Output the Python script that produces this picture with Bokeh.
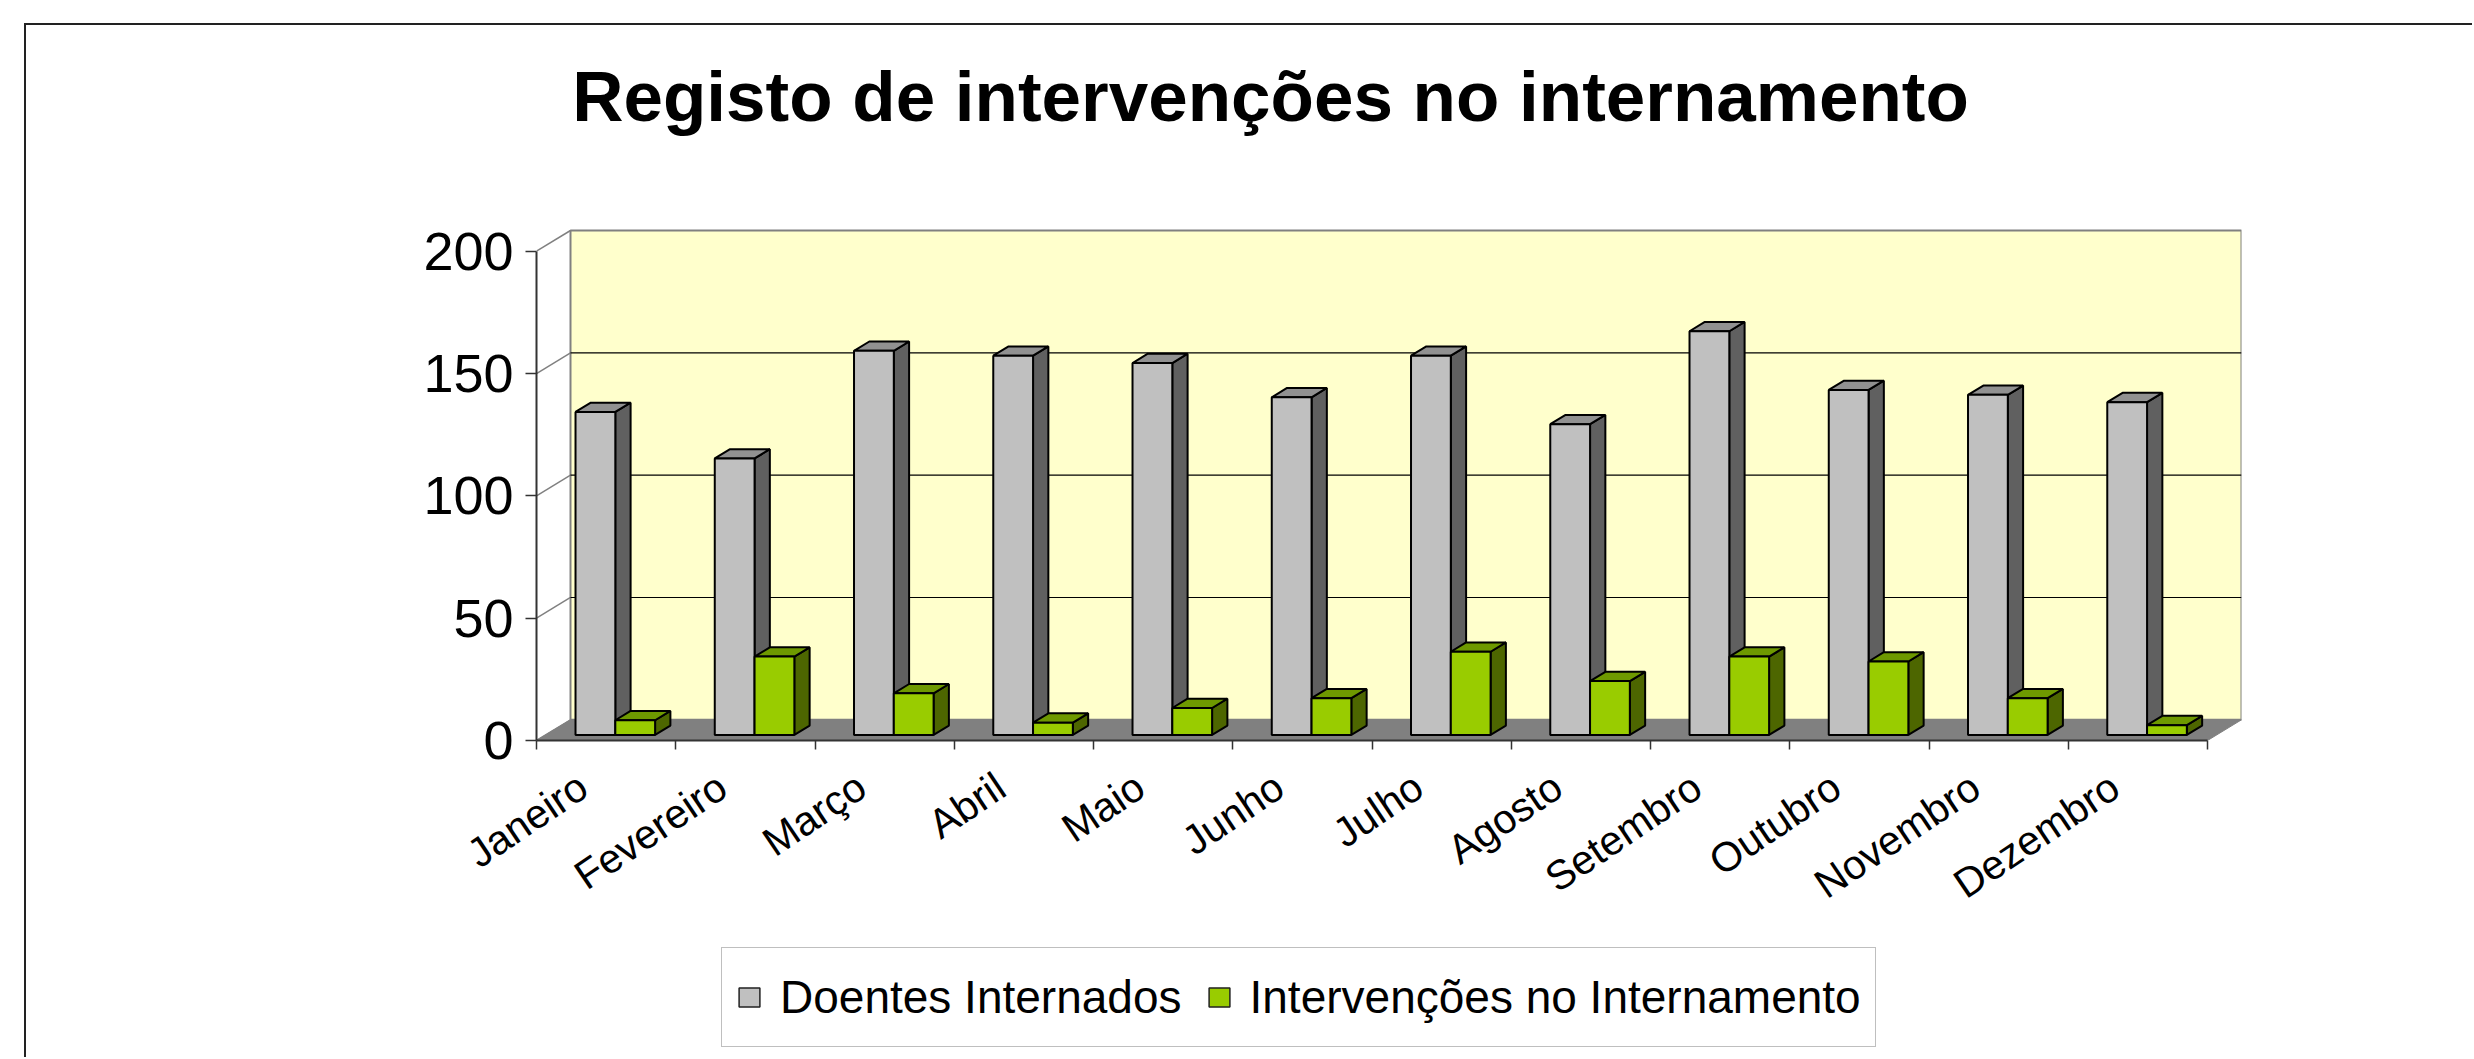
import math
from bokeh.plotting import figure
from bokeh.layouts import column
from bokeh.models import (Range1d, FixedTicker, LinearAxis, Legend, LegendItem, Label)
from bokeh.embed import file_html
from bokeh.resources import INLINE

# ---------------- data ----------------
months = ["Janeiro", "Fevereiro", "Março", "Abril", "Maio", "Junho",
          "Julho", "Agosto", "Setembro", "Outubro", "Novembro", "Dezembro"]
doentes = [132, 113, 157, 155, 152, 138, 155, 127, 165, 141, 139, 136]
intervencoes = [6, 32, 17, 5, 11, 15, 34, 22, 32, 30, 15, 4]
series_names = ["Doentes Internados", "Intervenções no Internamento"]
y_ticks = [0, 50, 100, 150, 200]
title_text = "Registo de intervenções no internamento"

# ---------------- layout / 3-D styling ----------------
n = len(months)
W = 2472
H_MAIN, H_LEG = 944, 113
FRAME_L, FRAME_R, FRAME_B = 536, 2241, 740   # pixel edges of the plotting frame
PX_PER_CAT = 139.25
PX_PER_VAL = 2.4465
DX = 34 / PX_PER_CAT          # depth offset (category units)
DY = 20.7 / PX_PER_VAL        # depth offset (value units)
D0, D1 = 0.27, 0.72           # bar depth span (fraction of floor depth)
GAP = 1.5
BAR_W = 1.0 / (2 + GAP)
LABEL_SHIFT = 0.165
YMAX = y_ticks[-1]
TITLE_CX, TITLE_BASE = 1270, 96    # title centre / baseline in pixels
LEGEND_LEFT, LEGEND_BOTTOM = 721, 1047

FONT = "Liberation Sans"
series_colors = [
    dict(front="#C0C0C0", side="#606060", top="#919191"),
    dict(front="#99CC00", side="#4D6600", top="#6E9900"),
]

p = figure(width=W, height=H_MAIN, output_backend="svg", toolbar_location=None,
           title=None,
           x_range=Range1d(0, n + DX), y_range=Range1d(0, FRAME_B / PX_PER_VAL),
           x_axis_type=None, y_axis_type=None,
           min_border_left=FRAME_L, min_border_right=W - FRAME_R,
           min_border_top=0, min_border_bottom=H_MAIN - FRAME_B)
p.outline_line_color = None
p.background_fill_color = None
p.border_fill_color = None
p.styles = {
    "background-color": "white",
    "background-image": "linear-gradient(#222222, #222222), linear-gradient(#222222, #222222)",
    "background-size": "100% 2px, 2px 100%",
    "background-position": "24px 23px, 24px 23px",
    "background-repeat": "no-repeat",
}

# title
p.add_layout(Label(x=(TITLE_CX - FRAME_L) / PX_PER_CAT, y=(FRAME_B - TITLE_BASE) / PX_PER_VAL,
                   text=title_text, text_align="center", text_baseline="alphabetic",
                   text_font=FONT, text_font_size="71px", text_font_style="bold",
                   text_color="black"))

# back wall
p.quad(left=DX, right=n + DX, bottom=DY, top=YMAX + DY,
       fill_color="#FFFFCC", line_color="#808080", line_width=2)
# floor
p.patch(x=[0, n, n + DX, DX], y=[0, 0, DY, DY],
        fill_color="#808080", line_color="#808080", line_width=1)
# side-wall diagonals
p.segment(x0=[0] * len(y_ticks), y0=y_ticks,
          x1=[DX] * len(y_ticks), y1=[t + DY for t in y_ticks],
          line_color="#808080", line_width=1.5)
# gridlines on back wall
grid_vals = [t for t in y_ticks if 0 < t < YMAX]
p.segment(x0=[DX] * len(grid_vals), y0=[t + DY for t in grid_vals],
          x1=[n + DX] * len(grid_vals), y1=[t + DY for t in grid_vals],
          line_color="#000000", line_width=1.2)

# bars
ddx = (D1 - D0) * DX
ddy = (D1 - D0) * DY
front_data = []
for s, vals in enumerate([doentes, intervencoes]):
    c = series_colors[s]
    lefts, rights, bottoms, tops = [], [], [], []
    side_xs, side_ys, top_xs, top_ys = [], [], [], []
    for i, v in enumerate(vals):
        l = i + (1 - 2 * BAR_W) / 2 + s * BAR_W + D0 * DX
        r = l + BAR_W
        b = D0 * DY
        t = v + D0 * DY
        lefts.append(l); rights.append(r); bottoms.append(b); tops.append(t)
        side_xs.append([r, r + ddx, r + ddx, r])
        side_ys.append([b, b + ddy, t + ddy, t])
        top_xs.append([l, r, r + ddx, l + ddx])
        top_ys.append([t, t, t + ddy, t + ddy])
    p.patches(xs=side_xs, ys=side_ys, fill_color=c["side"],
              line_color="black", line_width=2)
    p.patches(xs=top_xs, ys=top_ys, fill_color=c["top"],
              line_color="black", line_width=2)
    p.quad(left=lefts, right=rights, bottom=bottoms, top=tops,
           fill_color=c["front"], line_color="black", line_width=2)
    front_data.append(dict(left=lefts, right=rights, bottom=bottoms, top=tops))

# y axis (front)
yaxis = LinearAxis(ticker=FixedTicker(ticks=y_ticks), bounds=(0, YMAX),
                   major_label_text_font=FONT, major_label_text_font_size="54px",
                   major_label_text_color="black",
                   major_tick_out=11, major_tick_in=0, minor_tick_line_color=None,
                   axis_line_color="#333333", axis_line_width=2,
                   major_tick_line_color="#333333", major_tick_line_width=1.5,
                   major_label_standoff=12)
p.add_layout(yaxis, "left")

# x axis (categories)
label_pos = [round(i + 0.5 - LABEL_SHIFT, 3) for i in range(n)]
xaxis = LinearAxis(ticker=FixedTicker(ticks=label_pos, minor_ticks=list(range(n + 1))),
                   bounds=(0, n),
                   major_label_overrides={pos: m for pos, m in zip(label_pos, months)},
                   major_label_orientation=math.radians(34),
                   major_label_text_font=FONT, major_label_text_font_size="41px",
                   major_label_text_color="black",
                   major_tick_line_color=None,
                   minor_tick_out=9, minor_tick_in=0, minor_tick_line_color="#333333",
                   minor_tick_line_width=1.5,
                   axis_line_color="#333333", axis_line_width=2,
                   major_label_standoff=33)
p.add_layout(xaxis, "below")

# ---------------- legend strip (frame is aligned with the main frame) ----------------
lp = figure(width=W, height=H_LEG, output_backend="svg", toolbar_location=None,
            title=None, x_range=Range1d(0, n + DX), y_range=Range1d(-2, -1),
            x_axis_type=None, y_axis_type=None,
            min_border_left=0, min_border_right=0, min_border_top=0, min_border_bottom=0)
lp.outline_line_color = None
lp.background_fill_color = None
lp.border_fill_color = None
lp.styles = {
    "background-color": "white",
    "background-image": "linear-gradient(#222222, #222222)",
    "background-size": "2px 100%",
    "background-position": "24px 0px",
    "background-repeat": "no-repeat",
}
# legend proxies: same bars, lying outside this strip's visible range
proxies = [lp.quad(**front_data[k], fill_color=series_colors[k]["front"],
                   line_color="#222222", line_width=1.5)
           for k in range(2)]
legend = Legend(items=[LegendItem(label=series_names[k], renderers=[proxies[k]])
                       for k in range(2)],
                orientation="horizontal",
                location=(LEGEND_LEFT - FRAME_L, (H_MAIN + H_LEG) - LEGEND_BOTTOM),
                margin=0, padding=14, spacing=24, label_standoff=18,
                glyph_width=26, glyph_height=24, label_height=70,
                label_text_font=FONT, label_text_font_size="46px",
                label_text_color="black",
                border_line_color="#808080", border_line_width=1.5,
                background_fill_color="white", background_fill_alpha=1.0)
lp.add_layout(legend)

layout = column(p, lp, spacing=0)
open("out.html", "w").write(file_html(layout, INLINE))
